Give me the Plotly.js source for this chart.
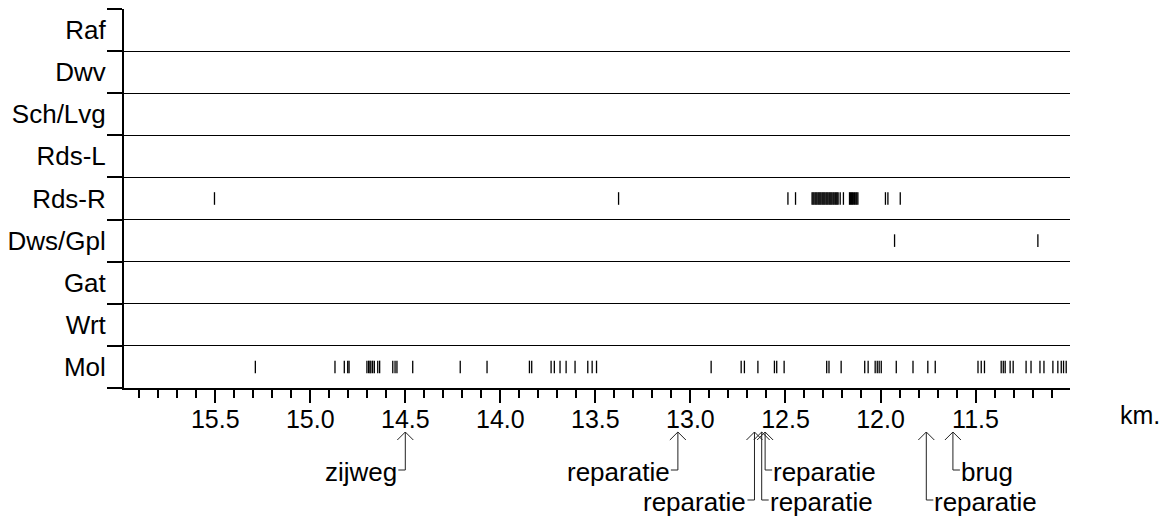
<!DOCTYPE html>
<html><head><meta charset="utf-8">
<script src="https://cdn.plot.ly/plotly-3.0.1.min.js"></script>
<style>body{margin:0;background:#fff}#chart{width:1168px;height:520px}</style>
</head><body><div id="chart"></div>
<script>
// Rows from top to bottom
const rows = ['Raf','Dwv','Sch/Lvg','Rds-L','Rds-R','Dws/Gpl','Gat','Wrt','Mol'];

const rdsR = [15.504, 13.378, 12.487, 12.447,
  12.360, 12.355, 12.350, 12.344, 12.339, 12.334, 12.328, 12.323, 12.318, 12.313,
  12.307, 12.302, 12.297, 12.292, 12.286, 12.281, 12.276, 12.270, 12.265, 12.260,
  12.255, 12.249, 12.244, 12.238, 12.233, 12.228, 12.223,
  12.212, 12.195,
  12.163, 12.158, 12.152, 12.147, 12.141, 12.136, 12.130, 12.125, 12.119,
  11.974, 11.961, 11.896];
const dwsGpl = [11.926, 11.172];
const mol = [15.289, 14.870, 14.821, 14.803, 14.796, 14.702, 14.693, 14.686, 14.681,
  14.672, 14.663, 14.645, 14.635, 14.566, 14.554, 14.544, 14.461, 14.211, 14.070,
  13.847, 13.835, 13.733, 13.716, 13.686, 13.654, 13.607, 13.540, 13.517, 13.494,
  12.891, 12.733, 12.716, 12.645, 12.558, 12.546, 12.507, 12.283, 12.271, 12.207,
  12.083, 12.065, 12.028, 12.017, 12.007, 11.996, 11.917, 11.829, 11.751, 11.712,
  11.487, 11.470, 11.453, 11.365, 11.354, 11.344, 11.318, 11.302, 11.234, 11.208,
  11.161, 11.140, 11.093, 11.067, 11.049, 11.037, 11.023];

const xTicks = [15.5, 15.0, 14.5, 14.0, 13.5, 13.0, 12.5, 12.0, 11.5];

// Notes below the axis
const noteKm    = [14.5, 13.066, 12.663, 12.625, 12.607, 11.759, 11.619];
const noteText  = ['zijweg','reparatie','reparatie','reparatie','reparatie','reparatie','brug'];
const noteSide  = ['left','left','left','right','right','right','right'];
const noteLevel = ['upper','upper','lower','lower','upper','lower','upper'];

const FONT = 'Liberation Sans, Arial, sans-serif';
const rowY = name => rows.length - 1 - rows.indexOf(name);

function series(xs, name) {
  return {
    type: 'scatter', mode: 'markers', x: xs, y: xs.map(() => rowY(name)),
    marker: {symbol: 'line-ns-open', size: 9, color: '#000', line: {width: 1.3, color: '#000'}},
    hoverinfo: 'skip', showlegend: false, cliponaxis: false
  };
}
const data = [series(rdsR, 'Rds-R'), series(dwsGpl, 'Dws/Gpl'), series(mol, 'Mol')];

const boundaries = [];
for (let i = 0; i <= rows.length; i++) boundaries.push(i - 0.5);

const kmPerPx = 1 / 190;
const tip = 44, headH = 8, headW = 8 * kmPerPx, stub = 7 * kmPerPx;
const levels = {upper: 82, lower: 112};
const shapes = [], annotations = [];
noteKm.forEach((x, i) => {
  const lvl = levels[noteLevel[i]];
  const dir = noteSide[i] === 'left' ? 1 : -1;
  const xe = x + dir * stub;
  shapes.push({
    type: 'path', xref: 'x', yref: 'paper', ysizemode: 'pixel', yanchor: 0,
    path: `M${x + headW},${-(tip + headH)} L${x},${-tip} L${x - headW},${-(tip + headH)} M${x},${-tip} L${x},${-lvl} L${xe},${-lvl}`,
    line: {color: '#222', width: 1}
  });
  annotations.push({
    xref: 'x', yref: 'paper', x: xe, y: 0, yshift: -lvl - 2,
    xanchor: dir === 1 ? 'right' : 'left', yanchor: 'middle',
    text: noteText[i], showarrow: false, borderpad: 0,
    font: {family: FONT, size: 26, color: '#000'}
  });
});
annotations.push({
  xref: 'paper', yref: 'paper', x: 1, y: 0, xshift: 48, yshift: -27,
  xanchor: 'left', yanchor: 'middle', text: 'km.', showarrow: false,
  font: {family: FONT, size: 25, color: '#000'}
});

const layout = {
  width: 1168, height: 520,
  margin: {l: 124, r: 98, t: 9, b: 132},
  paper_bgcolor: '#fff', plot_bgcolor: '#fff',
  font: {family: FONT, size: 25, color: '#000'},
  xaxis: {
    range: [15.98, 11.003], tickvals: xTicks, ticktext: xTicks.map(v => v.toFixed(1)),
    ticks: 'outside', ticklen: 13, tickwidth: 2, tickcolor: '#000', ticklabelstandoff: -5,
    showline: true, linewidth: 2, linecolor: '#000', showgrid: false, zeroline: false,
    tickfont: {family: FONT, size: 25, color: '#000'},
    minor: {dtick: 0.1, tick0: 0, ticks: 'outside', ticklen: 8, tickwidth: 2, tickcolor: '#000', showgrid: false}
  },
  yaxis: {
    range: [-0.5, rows.length - 0.5],
    tickvals: rows.map(r => rowY(r)), ticktext: rows.slice(),
    ticks: '', ticklabelstandoff: 11,
    showline: true, linewidth: 2, linecolor: '#000', showgrid: false, zeroline: false,
    tickfont: {family: FONT, size: 26, color: '#000'},
    minor: {tickmode: 'array', tickvals: boundaries, ticks: 'outside', ticklen: 15, tickwidth: 2,
            tickcolor: '#000', showgrid: true, gridcolor: '#000', gridwidth: 1}
  },
  shapes: shapes,
  annotations: annotations,
  showlegend: false
};

Plotly.newPlot('chart', data, layout, {displayModeBar: false, staticPlot: true});
</script>
</body></html>
